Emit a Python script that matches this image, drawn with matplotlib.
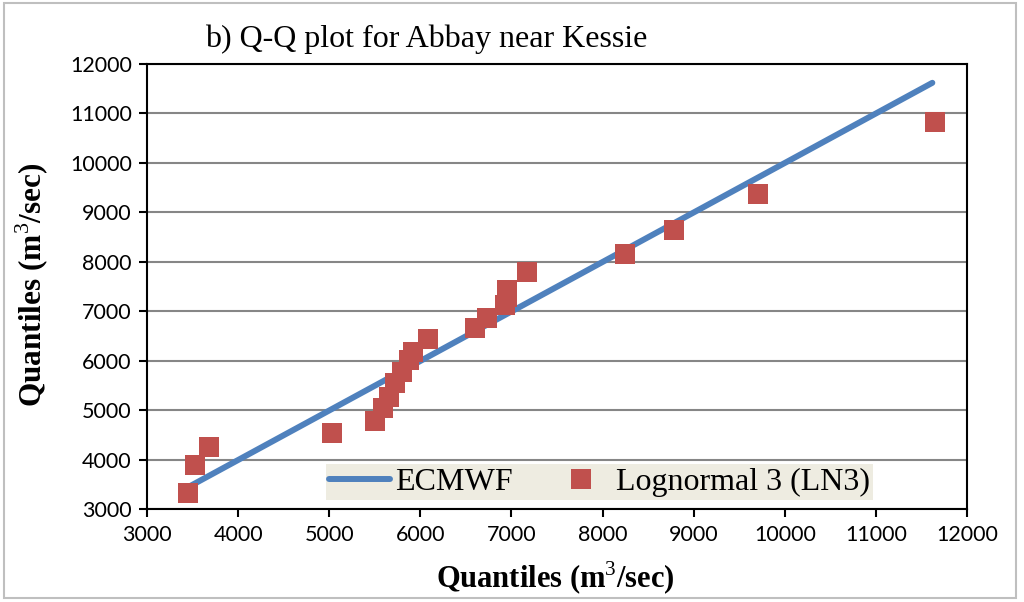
import matplotlib.pyplot as plt
from matplotlib.patches import Rectangle

# ECMWF quantiles (x) vs LN3 quantiles (y)
ln3_x = [3450, 3530, 3680, 5030, 5500, 5590, 5660, 5720, 5800, 5870, 5920, 6080,
         6600, 6730, 6930, 6950, 6950, 7170, 8250, 8780, 9710, 11650]
ln3_y = [3330, 3900, 4270, 4540, 4780, 5040, 5280, 5550, 5780, 6020, 6190, 6440,
         6660, 6860, 7130, 7300, 7430, 7800, 8160, 8650, 9370, 10820]

# 1:1 reference line
line_x = [3480, 11620]
line_y = [3480, 11620]

xticks = list(range(3000, 12001, 1000))
yticks = list(range(3000, 12001, 1000))

blue = '#4F81BD'
red = '#C0504D'
serif = 'Liberation Serif'

plt.rcParams['mathtext.fontset'] = 'custom'
plt.rcParams['mathtext.rm'] = serif
plt.rcParams['mathtext.bf'] = serif + ':bold'

fig = plt.figure(figsize=(10.24, 6.02), dpi=100)
ax = fig.add_axes([0.1436, 0.1537, 0.8007, 0.74])

ax.plot(line_x, line_y, color=blue, lw=4.3, solid_capstyle='round', label='ECMWF', zorder=3)
ax.plot(ln3_x, ln3_y, 's', color=red, markersize=14, markeredgewidth=0,
        label='Lognormal 3 (LN3)', zorder=4)

ax.set_xlim(3000, 12000)
ax.set_ylim(3000, 12000)
ax.set_xticks(xticks)
ax.set_yticks(yticks)
ax.grid(axis='y', color='#868686', lw=1.5, zorder=1)
ax.set_axisbelow(True)

for s in ax.spines.values():
    s.set_color('black')
    s.set_linewidth(1.5)

ax.tick_params(direction='out', length=6, width=1.5, labelsize=15.5, colors='black', pad=5)
for lab in ax.get_xticklabels() + ax.get_yticklabels():
    lab.set_family('Lato')

ax.set_xlabel('Quantiles (m$^3$/sec)', family=serif, fontweight='bold', fontsize=22, va='center')
ax.set_ylabel('Quantiles (m$^3$/sec)', family=serif, fontweight='bold', fontsize=22.5, va='center')
ax.xaxis.set_label_coords(0.4976, -0.154)
ax.yaxis.set_label_coords(-0.140, 0.504)

fig.text(0.2, 0.934, 'b) Q-Q plot for Abbay near Kessie', family=serif, fontsize=23,
         ha='left', va='center')

leg = ax.legend(loc='lower center', bbox_to_anchor=(0.552, 0.021), ncol=2, frameon=True,
                fancybox=False, facecolor='#EEECE1', edgecolor='none', framealpha=1,
                prop={'family': serif, 'size': 23}, handlelength=1.9, handletextpad=0.15,
                columnspacing=1.2, borderaxespad=0, borderpad=0.1)
leg.set_zorder(5)

fig.patches.append(Rectangle((0.004, 0.007), 0.988, 0.988, transform=fig.transFigure,
                             fill=False, edgecolor='#BFBFBF', lw=1.5))

fig.savefig('out.png', dpi=100)
